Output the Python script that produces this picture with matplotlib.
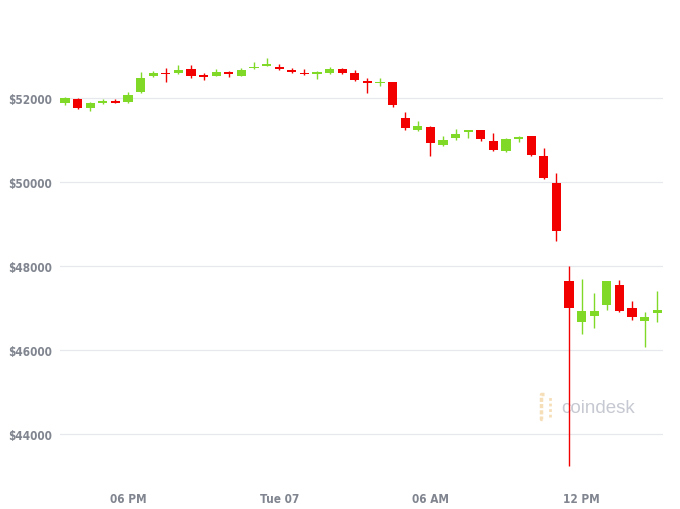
import numpy as np
import pandas as pd
import matplotlib
matplotlib.use("Agg")
import matplotlib.pyplot as plt
import matplotlib.dates as mdates

# BTC 30-min candles, 15:30 Mon -> 15:00 Tue
opens = [51881, 51976, 51754, 51873, 51937, 51897, 52135, 52532, 52595, 52595,
         52690, 52532, 52532, 52611, 52532, 52706, 52770, 52746, 52674, 52595,
         52571, 52595, 52690, 52587, 52397, 52349, 52373, 51524, 51238, 51302,
         50889, 51040, 51183, 51238, 50985, 50731, 51016, 51088, 50612, 49977,
         47653, 46677, 46819, 47081, 47557, 47002, 46701, 46875]
highs = [52032, 51992, 51913, 51976, 51976, 52135, 52611, 52651, 52706, 52793,
         52785, 52595, 52690, 52643, 52706, 52849, 52944, 52801, 52706, 52690,
         52651, 52730, 52706, 52674, 52468, 52468, 52389, 51675, 51461, 51342,
         51104, 51262, 51240, 51250, 51159, 51040, 51104, 51100, 50802, 50215,
         47990, 47692, 47351, 47640, 47668, 47177, 46899, 47399]
lows = [51841, 51738, 51691, 51849, 51873, 51881, 52119, 52500, 52389, 52571,
        52484, 52436, 52516, 52500, 52532, 52690, 52754, 52674, 52603, 52547,
        52452, 52571, 52579, 52412, 52119, 52278, 51778, 51246, 51207, 50628,
        50850, 51008, 51040, 50985, 50731, 50707, 50945, 50627, 50072, 48589,
        43250, 46383, 46518, 46962, 46899, 46716, 46082, 46661]
closes = [51992, 51754, 51881, 51937, 51889, 52071, 52484, 52595, 52563, 52666,
          52516, 52508, 52627, 52563, 52674, 52738, 52801, 52690, 52619, 52563,
          52595, 52690, 52595, 52428, 52365, 52389, 51841, 51286, 51342, 50929,
          51000, 51143, 51230, 51024, 50770, 51024, 51064, 50651, 50096, 48827,
          46994, 46939, 46939, 47637, 46923, 46796, 46796, 46962]

times = pd.date_range("2021-09-06 15:30", periods=len(opens), freq="30min")
tick_times = pd.to_datetime(["2021-09-06 18:00", "2021-09-07 00:00",
                             "2021-09-07 06:00", "2021-09-07 12:00"])
tick_labels = ["06 PM", "Tue 07", "06 AM", "12 PM"]
y_ticks = [44000, 46000, 48000, 50000, 52000]

GREEN = "#7fd926"
RED = "#f20000"
GREY = "#80858f"

fig = plt.figure(figsize=(6.8, 5.1), dpi=100)
ax = fig.add_axes([60 / 680, 38 / 510, 603 / 680, 432 / 510])

x = mdates.date2num(times)
step = x[1] - x[0]
for xi, o, h, l, c in zip(x, opens, highs, lows, closes):
    col = GREEN if c >= o else RED
    ax.vlines(xi, l, h, color=col, linewidth=1.0, zorder=2)
    lo, hi = min(o, c), max(o, c)
    ax.bar(xi, max(hi - lo, 40), bottom=lo, width=step * 0.74,
           color=col, linewidth=0, zorder=3)

ax.set_xlim(x[0] - 0.4 * step, x[0] + 47.46 * step)
ax.set_ylim(43123, 53404)

ax.set_yticks(y_ticks)
ax.set_yticklabels(["$%d" % v for v in y_ticks])
ax.set_xticks(mdates.date2num(tick_times))
ax.set_xticklabels(tick_labels)
ax.tick_params(axis="both", length=0, colors=GREY, labelsize=8.5)
ax.tick_params(axis="y", pad=6)
ax.tick_params(axis="x", pad=15)
for lab in ax.get_xticklabels() + ax.get_yticklabels():
    lab.set_family("DejaVu Sans")
    lab.set_stretch("condensed")
    lab.set_weight("bold")

ax.grid(axis="y", color="#e6e8ee", linewidth=0.9, zorder=0)
ax.grid(axis="x", visible=False)
for s in ax.spines.values():
    s.set_visible(False)

# coindesk watermark
ax.plot([0.803, 0.797, 0.797, 0.803], [0.178, 0.178, 0.12, 0.12],
        transform=ax.transAxes, color="#f6dfb8", linewidth=2.5,
        linestyle=(0, (1.2, 0.6)), zorder=1)
ax.plot([0.812, 0.812], [0.125, 0.173], transform=ax.transAxes,
        color="#f6dfb8", linewidth=2, linestyle=(0, (1, 1)), zorder=1)
ax.text(0.832, 0.148, "coindesk", transform=ax.transAxes, ha="left",
        va="center", fontsize=13.5, color="#c6c9d1",
        family=["Liberation Sans", "DejaVu Sans"], zorder=1)

fig.savefig("out.png", dpi=100, facecolor="white")
